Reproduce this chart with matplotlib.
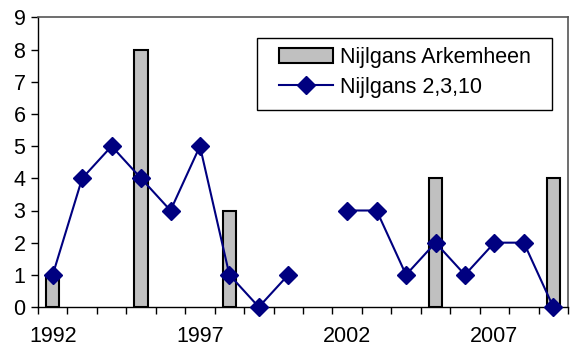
import numpy as np
import matplotlib
matplotlib.use("Agg")
import matplotlib.pyplot as plt
from matplotlib.patches import Rectangle

years = list(range(1992, 2010))
arkemheen = [1, np.nan, np.nan, 8, np.nan, np.nan, 3, np.nan, np.nan, np.nan,
             np.nan, np.nan, np.nan, 4, np.nan, np.nan, np.nan, 4]
nijlgans_2_3_10 = [1, 4, 5, 4, 3, 5, 1, 0, 1, np.nan, 3, 3, 1, 2, 1, 2, 2, 0]
tick_labels = ["1992", "1997", "2002", "2007"]

plt.rcParams['font.family'] = ['Liberation Sans', 'DejaVu Sans']

W, H = 570, 354
fig = plt.figure(figsize=(W / 100, H / 100), dpi=100)
ax = fig.add_axes([38 / W, 1 - 307 / H, (568 - 38) / W, (307 - 17.5) / H])

x = np.arange(len(years))
bars = ax.bar(x, arkemheen, width=0.45, color='#C0C0C0', edgecolor='black', linewidth=1.5,
              label='Nijlgans Arkemheen', zorder=2)
line, = ax.plot(x, nijlgans_2_3_10, color='#000080', linewidth=1.5, marker='D', markersize=9,
                label='Nijlgans 2,3,10', zorder=3, clip_on=False)

ax.set_xlim(-0.5, len(years) - 0.5)
ax.set_ylim(0, 9)
ax.set_yticks(range(0, 10))
ax.tick_params(axis='y', labelsize=15.5, length=5, width=1, direction='out', pad=4)

ax.set_xticks(np.arange(-0.5, len(years), 1), minor=True)
ax.set_xticks([years.index(int(t)) for t in tick_labels])
ax.set_xticklabels(tick_labels)
ax.tick_params(axis='x', which='major', length=0, labelsize=15.5, pad=14)
ax.tick_params(axis='x', which='minor', length=5, width=1, direction='out')

for s in ['left', 'bottom']:
    ax.spines[s].set_color('black')
    ax.spines[s].set_linewidth(1)
for s in ['top', 'right']:
    ax.spines[s].set_color('#555555')
    ax.spines[s].set_linewidth(1.2)

# legend frame
frame = Rectangle((257 / W, 1 - 110 / H), (552 - 257) / W, (110 - 38) / H,
                  transform=fig.transFigure, facecolor='white',
                  edgecolor='black', linewidth=1, zorder=4, clip_on=False)
ax.add_patch(frame)
leg = ax.legend([bars, line], ['Nijlgans Arkemheen', 'Nijlgans 2,3,10'],
                loc='upper left', bbox_to_anchor=(279 / W, 1 - 47 / H),
                bbox_transform=fig.transFigure, fontsize=15.5, frameon=False,
                handlelength=2.5, handletextpad=0.35, borderpad=0, labelspacing=0.4,
                borderaxespad=0)
leg.set_zorder(5)

fig.savefig('out.png', dpi=100)
